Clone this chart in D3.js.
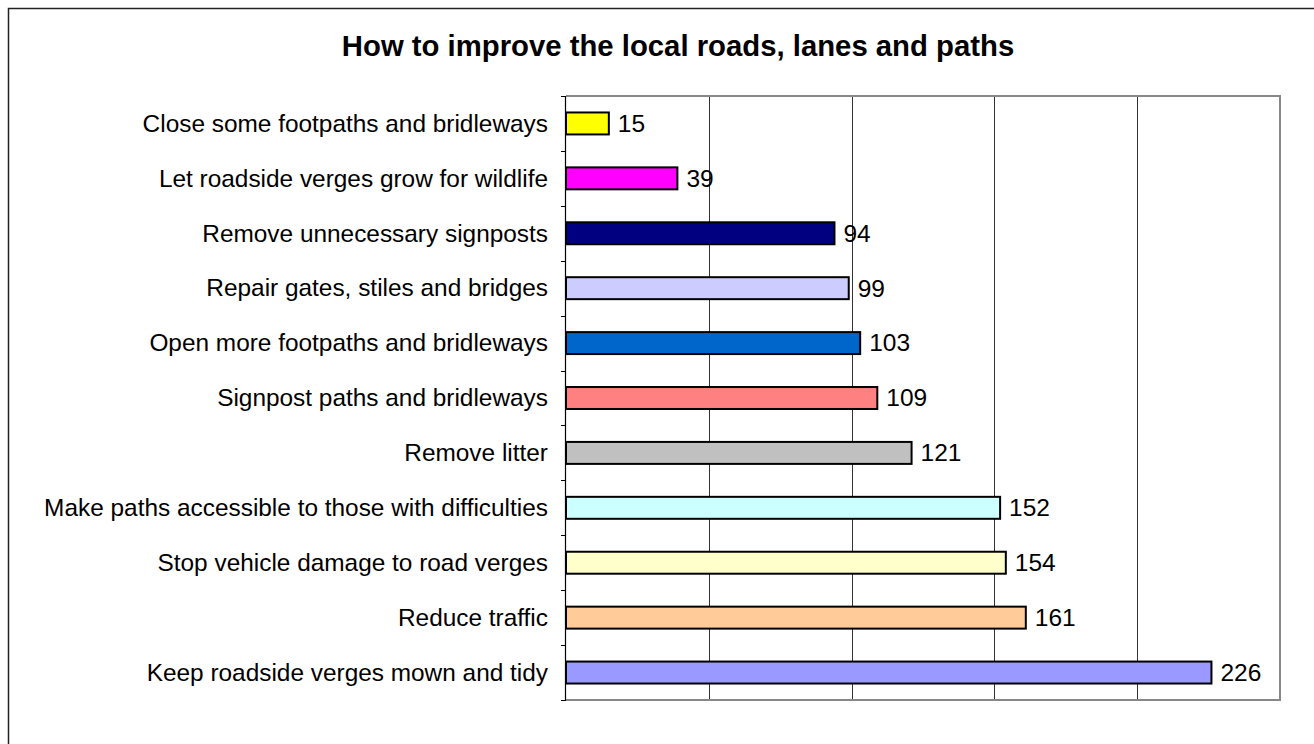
<!DOCTYPE html>
<html>
<head>
<meta charset="utf-8">
<script src="https://cdn.jsdelivr.net/npm/d3@7"></script>
<style>
  body { margin: 0; background: #fff; }
  svg { display: block; font-family: "Liberation Sans", Arial, sans-serif; }
</style>
</head>
<body>
<div id="chart"></div>
<script>
// data, top to bottom as in the chart
const categories = [
    'Close some footpaths and bridleways',
    'Let roadside verges grow for wildlife',
    'Remove unnecessary signposts',
    'Repair gates, stiles and bridges',
    'Open more footpaths and bridleways',
    'Signpost paths and bridleways',
    'Remove litter',
    'Make paths accessible to those with difficulties',
    'Stop vehicle damage to road verges',
    'Reduce traffic',
    'Keep roadside verges mown and tidy'
];
const values = [15, 39, 94, 99, 103, 109, 121, 152, 154, 161, 226];
const barColors = ['#FFFF00', '#FF00FF', '#000080', '#CCCCFF', '#0066CC', '#FF8080',
    '#C0C0C0', '#CCFFFF', '#FFFFCC', '#FFCC99', '#9999FF'];
const xTicks = [0, 50, 100, 150, 200, 250];
const title = 'How to improve the local roads, lanes and paths';

const W = 1314, H = 744;
const plot = { left: 566, right: 1280, top: 96, bottom: 700 };

const svg = d3.select('#chart').append('svg').attr('width', W).attr('height', H);

// outer chart border (runs off the bottom/right of the frame)
svg.append('rect')
    .attr('x', 8.5).attr('y', 8.5)
    .attr('width', W + 20).attr('height', H + 20)
    .attr('fill', 'none').attr('stroke', '#222').attr('stroke-width', 1.5);

svg.append('text')
    .text(title)
    .attr('x', 678).attr('y', 56)
    .attr('text-anchor', 'middle')
    .attr('font-size', 29.3).attr('font-weight', 'bold');

const x = d3.scaleLinear().domain([0, 250]).range([plot.left, plot.right]);
const y = d3.scaleBand().domain(categories)
    .range([plot.top, plot.bottom])
    .paddingInner(0.6).paddingOuter(0.3);

// vertical gridlines
svg.append('g').selectAll('line')
    .data(xTicks.slice(1, -1))
    .join('line')
    .attr('x1', d => Math.round(x(d)) + 0.5).attr('x2', d => Math.round(x(d)) + 0.5)
    .attr('y1', plot.top).attr('y2', plot.bottom)
    .attr('stroke', '#333').attr('stroke-width', 1);

// plot area frame (top, right, bottom)
svg.append('path')
    .attr('d', `M${plot.left},${plot.top}H${plot.right}V${plot.bottom}H${plot.left}`)
    .attr('fill', 'none').attr('stroke', '#888').attr('stroke-width', 2);

// bars
svg.append('g').selectAll('rect')
    .data(categories)
    .join('rect')
    .attr('x', x(0))
    .attr('y', d => y(d))
    .attr('width', (d, i) => x(values[i]) - x(0))
    .attr('height', y.bandwidth())
    .attr('fill', (d, i) => barColors[i])
    .attr('stroke', '#000').attr('stroke-width', 2);

// value labels
svg.append('g').selectAll('text')
    .data(categories)
    .join('text')
    .text((d, i) => values[i])
    .attr('x', (d, i) => x(values[i]) + 9)
    .attr('y', d => y(d) + y.bandwidth() / 2)
    .attr('dy', '0.34em')
    .attr('font-size', 24.5);

// category axis with ticks on the category boundaries
const step = y.step();
const bounds = categories.map(c => y(c) - step * 0.3).concat([plot.bottom]);
const axis = svg.append('g');
axis.append('line')
    .attr('x1', plot.left - 0.5).attr('x2', plot.left - 0.5)
    .attr('y1', plot.top).attr('y2', plot.bottom)
    .attr('stroke', '#000').attr('stroke-width', 1.2);
axis.selectAll('line.tick')
    .data(bounds)
    .join('line').attr('class', 'tick')
    .attr('x1', plot.left - 5).attr('x2', plot.left)
    .attr('y1', d => Math.round(d) + 0.5).attr('y2', d => Math.round(d) + 0.5)
    .attr('stroke', '#000');
axis.selectAll('text')
    .data(categories)
    .join('text')
    .text(d => d)
    .attr('x', 548)
    .attr('y', d => y(d) + y.bandwidth() / 2)
    .attr('dy', '0.34em')
    .attr('text-anchor', 'end')
    .attr('font-size', 24.4);
</script>
</body>
</html>
